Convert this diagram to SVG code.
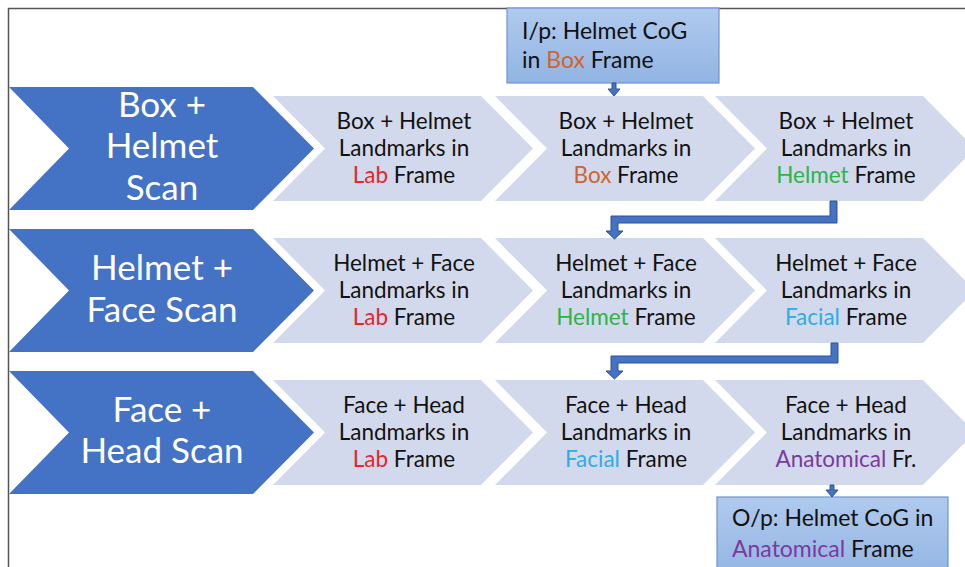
<svg xmlns="http://www.w3.org/2000/svg" width="965" height="567" viewBox="0 0 965 567">
<defs>
<linearGradient id="gbox" x1="0" y1="0" x2="0" y2="1">
<stop offset="0" stop-color="#B0CAEE"/>
<stop offset="1" stop-color="#92B4E3"/>
</linearGradient>
<path id="big" d="M0,0 H244 L305,61.5 L244,123 H0 L60,61.5 Z"/>
<path id="sm" d="M0,0 H208 L260,52.5 L208,105 H0 L52,52.5 Z"/>
</defs>
<style>
.big{fill:#4472C4}
.sm{fill:#D3D9EC}
.bt{font-family:Lato,"Open Sans",sans-serif;font-size:35px;fill:#FFFFFF;text-anchor:middle}
.st{font-family:Lato,"Open Sans",sans-serif;font-size:22.5px;fill:#111111;text-anchor:middle}
.bx{font-family:Lato,"Open Sans",sans-serif;font-size:23px;fill:#111111}
.box{fill:url(#gbox);stroke:#6E95CF;stroke-width:1.2}
.arr{fill:#4472C4;stroke:#2F528F;stroke-width:1}
.lab{fill:#E8262B}.bxc{fill:#D0652C}.hel{fill:#2DB34A}.fac{fill:#2CAEE4}.ana{fill:#7A3A9E}
</style>
<rect x="0" y="0" width="965" height="567" fill="#FFFFFF"/>
<path d="M8.5,567 V8.5 H965" fill="none" stroke="#555555" stroke-width="1.5"/>

<g id="row1-scan"><use href="#big" class="big" x="9" y="87"/>
<text class="bt" x="162" y="117">Box +</text><text class="bt" x="162" y="158">Helmet</text><text class="bt" x="162" y="200">Scan</text></g>
<g id="row1-c1"><use href="#sm" class="sm" x="273" y="96"/>
<text class="st" x="404" y="129">Box + Helmet</text><text class="st" x="404" y="156">Landmarks in</text><text class="st" x="404" y="183"><tspan class="lab">Lab</tspan> Frame</text></g>
<g id="row1-c2"><use href="#sm" class="sm" x="495" y="96"/>
<text class="st" x="626" y="129">Box + Helmet</text><text class="st" x="626" y="156">Landmarks in</text><text class="st" x="626" y="183"><tspan class="bxc">Box</tspan> Frame</text></g>
<g id="row1-c3"><use href="#sm" class="sm" x="715" y="96"/>
<text class="st" x="846" y="129">Box + Helmet</text><text class="st" x="846" y="156">Landmarks in</text><text class="st" x="846" y="183"><tspan class="hel">Helmet</tspan> Frame</text></g>

<g id="row2-scan"><use href="#big" class="big" x="9" y="229"/>
<text class="bt" x="162" y="280">Helmet +</text><text class="bt" x="162" y="322">Face Scan</text></g>
<g id="row2-c1"><use href="#sm" class="sm" x="273" y="238"/>
<text class="st" x="404" y="271">Helmet + Face</text><text class="st" x="404" y="298">Landmarks in</text><text class="st" x="404" y="325"><tspan class="lab">Lab</tspan> Frame</text></g>
<g id="row2-c2"><use href="#sm" class="sm" x="495" y="238"/>
<text class="st" x="626" y="271">Helmet + Face</text><text class="st" x="626" y="298">Landmarks in</text><text class="st" x="626" y="325"><tspan class="hel">Helmet</tspan> Frame</text></g>
<g id="row2-c3"><use href="#sm" class="sm" x="715" y="238"/>
<text class="st" x="846" y="271">Helmet + Face</text><text class="st" x="846" y="298">Landmarks in</text><text class="st" x="846" y="325"><tspan class="fac">Facial</tspan> Frame</text></g>

<g id="row3-scan"><use href="#big" class="big" x="9" y="371"/>
<text class="bt" x="162" y="422">Face +</text><text class="bt" x="162" y="463">Head Scan</text></g>
<g id="row3-c1"><use href="#sm" class="sm" x="273" y="380"/>
<text class="st" x="404" y="413">Face + Head</text><text class="st" x="404" y="440">Landmarks in</text><text class="st" x="404" y="467"><tspan class="lab">Lab</tspan> Frame</text></g>
<g id="row3-c2"><use href="#sm" class="sm" x="495" y="380"/>
<text class="st" x="626" y="413">Face + Head</text><text class="st" x="626" y="440">Landmarks in</text><text class="st" x="626" y="467"><tspan class="fac">Facial</tspan> Frame</text></g>
<g id="row3-c3"><use href="#sm" class="sm" x="715" y="380"/>
<text class="st" x="846" y="413">Face + Head</text><text class="st" x="846" y="440">Landmarks in</text><text class="st" x="846" y="467"><tspan class="ana">Anatomical</tspan> Fr.</text></g>

<g id="input-box"><rect class="box" x="507" y="8" width="212" height="75"/>
<text class="bx" x="522" y="39">I/p: Helmet CoG</text><text class="bx" x="522" y="68">in <tspan class="bxc">Box</tspan> Frame</text></g>
<g id="output-box"><rect class="box" x="717" y="497" width="231" height="80"/>
<text class="bx" x="732" y="526">O/p: Helmet CoG in</text><text class="bx" x="732" y="557"><tspan class="ana">Anatomical</tspan> Frame</text></g>

<g id="connectors">
<path class="arr" d="M612,83 H616 V89 H620 L614,96 L608,89 H612 Z"/>
<path class="arr" d="M830,201 H837 V223 H618 V231 H623 L614.5,239 L606,231 H611 V216 H830 Z"/>
<path class="arr" d="M831,343 H838 V363 H618 V371 H623 L614.5,379 L606,371 H611 V356 H831 Z"/>
<path class="arr" d="M830,485 H834 V490 H838 L832,497 L826,490 H830 Z"/>
</g>
</svg>
